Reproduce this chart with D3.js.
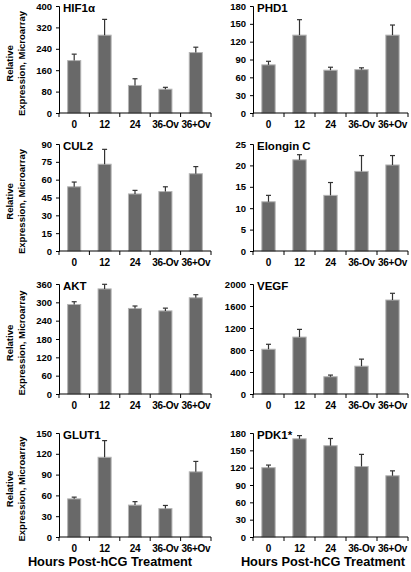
<!DOCTYPE html>
<html><head><meta charset="utf-8">
<script src="https://cdn.jsdelivr.net/npm/d3@7/dist/d3.min.js"></script>
<style>
html,body{margin:0;padding:0;background:#fff;}
svg text{font-family:"Liberation Sans",Arial,sans-serif;font-weight:bold;fill:#000;}
</style></head>
<body>
<svg id="c" width="411" height="572"></svg>
<script>
const categories = ["0","12","24","36-Ov","36+Ov"];
const titles = ["HIF1\u03b1","PHD1","CUL2","Elongin C","AKT","VEGF","GLUT1","PDK1*"];
const yMax = [400,180,90,25,360,2000,150,180];
const yStep = [80,30,15,5,60,400,30,30];
const hif1a = [196,291,103,89,226];
const hif1aErr = [24,59,25,7,20];
const phd1 = [81,131,72,73,131];
const phd1Err = [6,26,5,3,17];
const cul2 = [54,73,48,50,65];
const cul2Err = [4,12.5,3,4,6];
const elonginC = [11.5,21.3,13.0,18.6,20.1];
const elonginCErr = [1.5,1.2,3.0,3.7,2.2];
const akt = [293,344,280,272,315];
const aktErr = [9,15,8,9,10];
const vegf = [814,1035,314,506,1709];
const vegfErr = [90,140,30,128,122];
const glut1 = [55,115,46,41,94];
const glut1Err = [2.5,24,5,4.5,15];
const pdk1 = [120,170,158,122,106];
const pdk1Err = [4.5,5.5,12.5,21,8.5];

const values = [hif1a,phd1,cul2,elonginC,akt,vegf,glut1,pdk1];
const errors = [hif1aErr,phd1Err,cul2Err,elonginCErr,aktErr,vegfErr,glut1Err,pdk1Err];

const svg = d3.select("#c");
const cols = [[59,211],[253,408]];
const rows = [[6,113],[144,251],[284,394],[433,537]];
const xTitleCenter = [110,323];

values.forEach((vals,i)=>{
  const col = i%2, row = Math.floor(i/2);
  const [x0,x1] = cols[col];
  const [yt,yb] = rows[row];
  const x = d3.scaleBand().domain(categories).range([x0,x1]).padding(0);
  const y = d3.scaleLinear().domain([0,yMax[i]]).range([yb,yt]);
  const g = svg.append("g");
  const bw = x.bandwidth()*0.43;
  const data = categories.map((c,k)=>({c, v:vals[k], e:errors[i][k]}));
  g.selectAll("rect.bar").data(data).join("rect")
    .attr("x",d=>x(d.c)+x.bandwidth()/2-bw/2)
    .attr("width",bw)
    .attr("y",d=>y(d.v))
    .attr("height",d=>yb-y(d.v))
    .attr("fill","#696969").attr("stroke","#b4b4b4").attr("stroke-width",1);
  g.selectAll("line.err").data(data).join("line")
    .attr("x1",d=>x(d.c)+x.bandwidth()/2).attr("x2",d=>x(d.c)+x.bandwidth()/2)
    .attr("y1",d=>y(d.v)).attr("y2",d=>y(d.v+d.e))
    .attr("stroke","#333").attr("stroke-width",1.2);
  g.selectAll("line.cap").data(data).join("line")
    .attr("x1",d=>x(d.c)+x.bandwidth()/2-2.5).attr("x2",d=>x(d.c)+x.bandwidth()/2+2.5)
    .attr("y1",d=>y(d.v+d.e)).attr("y2",d=>y(d.v+d.e))
    .attr("stroke","#333").attr("stroke-width",1.2);
  const ticks = d3.range(0,yMax[i]+1e-9,yStep[i]);
  const ya = d3.axisLeft(y).tickValues(ticks).tickSize(3).tickPadding(4).tickFormat(d3.format("d"));
  const yg = g.append("g").attr("transform",`translate(${x0},0)`).call(ya);
  yg.select(".domain").attr("stroke","#000");
  yg.selectAll("text").style("font-size","9.5px");
  const xa = g.append("g").attr("transform",`translate(0,${yb})`);
  xa.append("line").attr("x1",x0).attr("x2",x1).attr("stroke","#000");
  const bounds = categories.map(c=>x(c)).concat([x1]);
  xa.selectAll("line.t").data(bounds).join("line")
    .attr("x1",d=>d).attr("x2",d=>d).attr("y1",0).attr("y2",4).attr("stroke","#000");
  xa.selectAll("text").data(categories).join("text")
    .attr("x",d=>x(d)+x.bandwidth()/2).attr("y",14.5)
    .attr("text-anchor","middle").style("font-size","10px").style("letter-spacing","-0.3px").text(d=>d);
  g.append("text").attr("x",x0+4).attr("y",yt+6).style("font-size","11.5px").text(titles[i]);
  if(col===0){
    const cy=(yt+yb)/2+4;
    g.append("text").attr("transform",`translate(13,${cy}) rotate(-90)`)
      .attr("text-anchor","middle").style("font-size","9.5px").text("Relative");
    g.append("text").attr("transform",`translate(25,${cy}) rotate(-90)`)
      .attr("text-anchor","middle").style("font-size","9.5px").text("Expression, Microarray");
  }
  if(row===3){
    g.append("text").attr("x",xTitleCenter[col]).attr("y",566).attr("text-anchor","middle")
      .style("font-size","12.8px").text("Hours Post-hCG Treatment");
  }
});
</script>
</body></html>
